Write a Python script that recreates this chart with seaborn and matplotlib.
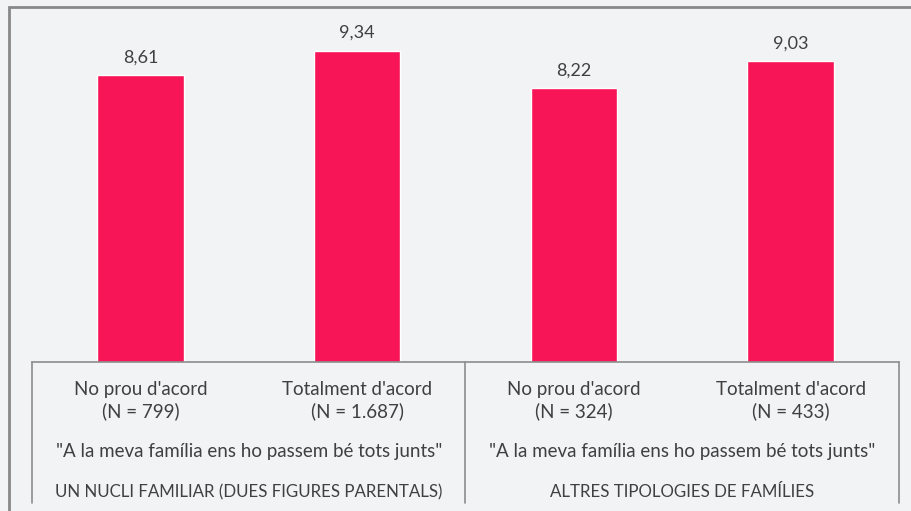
import matplotlib
matplotlib.use("Agg")
import matplotlib.pyplot as plt
import matplotlib.transforms as mtransforms
from matplotlib.lines import Line2D
from matplotlib.patches import Rectangle
import pandas as pd
import seaborn as sns

# data
answers = ["No prou d'acord", "Totalment d'acord", "No prou d'acord", "Totalment d'acord"]
n_labels = ["(N = 799)", "(N = 1.687)", "(N = 324)", "(N = 433)"]
values = [8.61, 9.34, 8.22, 9.03]
question = "\"A la meva família ens ho passem bé tots junts\""
groups = ["UN NUCLI FAMILIAR (DUES FIGURES PARENTALS)", "ALTRES TIPOLOGIES DE FAMÍLIES"]

BG = "#F2F3F5"
BAR = "#F71457"
TXT = "#404040"
LINE = "#8C8C8C"

W, H = 912, 511
sns.set_style("white")
plt.rcParams["font.family"] = ["Lato", "DejaVu Sans"]

df = pd.DataFrame({"pos": [str(i) for i in range(len(values))], "value": values})

fig = plt.figure(figsize=(W / 100, H / 100), dpi=100, facecolor=BG)
ax = fig.add_axes([32 / W, 1 - 362 / H, (899 - 32) / W, (362 - 12) / H])
ax.set_facecolor(BG)
sns.barplot(data=df, x="pos", y="value", color=BAR, width=0.4, saturation=1, ax=ax)
ax.set_ylim(0, 10.5)
ax.set_xlim(-0.5, 3.5)
ax.set_xlabel("")
ax.set_ylabel("")
ax.set_xticks([])
ax.set_yticks([])
for s in ["top", "left", "right"]:
    ax.spines[s].set_visible(False)
ax.spines["bottom"].set_color(LINE)
ax.spines["bottom"].set_linewidth(1.2)

for i, v in enumerate(values):
    ax.annotate(f"{v:.2f}".replace(".", ","), (i, v), xytext=(0, 7),
                textcoords="offset points", ha="center", va="bottom",
                fontsize=13, color=TXT)

tr = mtransforms.blended_transform_factory(ax.transData, fig.transFigure)


def fy(px):
    return 1 - px / H


FS = 13.5
for i in range(len(values)):
    fig.text(i, fy(389), answers[i], transform=tr, ha="center", va="center",
             fontsize=FS, color=TXT)
    fig.text(i, fy(411), n_labels[i], transform=tr, ha="center", va="center",
             fontsize=FS, color=TXT)

for g in range(2):
    xc = 2 * g + 0.5
    fig.text(xc, fy(452), question, transform=tr, ha="center", va="center",
             fontsize=FS, color=TXT)
    fig.text(xc, fy(492), groups[g], transform=tr, ha="center", va="center",
             fontsize=12.2, color=TXT)

for xv in [-0.5, 1.5, 3.5]:
    fig.add_artist(Line2D([xv, xv], [fy(362), fy(503)], transform=tr,
                          color=LINE, lw=1.2))

# outer frame
fig.add_artist(Rectangle((9 / W, -0.05), 1.0, fy(7) + 0.05, transform=fig.transFigure,
                         fill=False, edgecolor="#888888", lw=2))

fig.savefig("out.png", dpi=100, facecolor=BG)
